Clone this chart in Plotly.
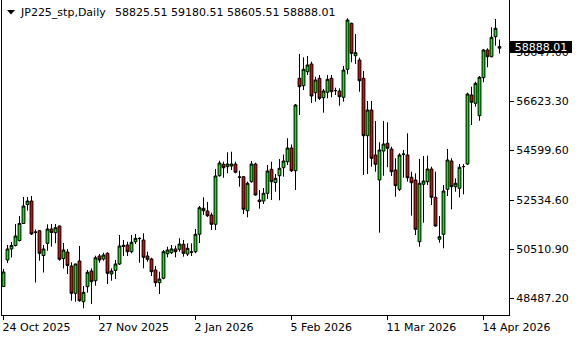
import plotly.graph_objects as go

# ---- data (JP225 daily OHLC) ----
opens = [48983, 50077, 50532, 50676, 50883, 51585, 52369, 52514, 51234, 51287,
         50263, 50767, 51358, 51205, 51481, 50139, 50408, 49829, 48702, 50036,
         48355, 48975, 49623, 49222, 50242, 50119, 50354, 49499, 49644, 49912,
         50635, 50697, 50420, 50833, 50973, 50903, 50242, 50119, 49664, 49140,
         49321, 50337, 50379, 50532, 50519, 50726, 50325, 50395, 50420, 51139,
         52212, 52101, 51936, 51552, 53559, 54030, 53931, 53959, 54042, 53493,
         53518, 52113, 53311, 54042, 52555, 52514, 52832, 53823, 53278, 53559,
         53889, 54137, 54703, 53765, 57581, 57276, 57854, 58172, 56987, 57581,
         56780, 57003, 57581, 57069, 57057, 56797, 57953, 59853, 58515, 58337,
         57581, 55211, 56272, 54414, 53381, 54579, 54897, 54662, 53794, 52997,
         54455, 54414, 53493, 53381, 50833, 53204, 53311, 53836, 52667, 50932,
         51139, 52997, 54166, 53105, 53038, 53931, 54042, 56892, 56549, 56037,
         57606, 58750, 58474, 59300, 58825.51]
highs = [49706, 50697, 50821, 51564, 51894, 52679, 52679, 52720, 51337, 51316,
         50697, 51552, 51564, 51564, 51495, 50779, 50532, 49982, 49925, 50655,
         49003, 49664, 49734, 50255, 50325, 50379, 50395, 49734, 50077, 51110,
         50903, 50833, 51110, 51151, 51015, 51180, 50420, 50172, 49829, 49594,
         50490, 50627, 50697, 50668, 50973, 50903, 50767, 50767, 51358, 52307,
         52667, 52473, 52031, 53836, 54178, 54137, 54525, 54550, 54137, 53765,
         53546, 53311, 54166, 54096, 52968, 53051, 54001, 54137, 53629, 54249,
         54434, 55103, 54847, 56520, 58585, 58449, 58502, 58267, 57648, 57718,
         57140, 57718, 57718, 57193, 57168, 58089, 60059, 59878, 59411, 58432,
         57883, 56644, 56644, 55818, 54938, 55818, 55764, 54757, 54277, 54484,
         54620, 55310, 53724, 53658, 54249, 54372, 54385, 53931, 53724, 51894,
         53175, 54662, 54277, 53451, 54042, 54042, 56987, 57235, 57441, 57676,
         58792, 58820, 59688, 60031, 59180.51]
lows = [48962, 49953, 50181, 50635, 50841, 51564, 52122, 51110, 49148, 50048,
        49561, 50461, 50627, 50767, 50048, 49726, 49499, 48396, 48355, 48355,
        48082, 48727, 48260, 49016, 49966, 50048, 49086, 49222, 49293, 49871,
        50242, 50242, 50354, 50738, 49966, 49734, 50007, 49416, 48975, 48673,
        49280, 50189, 50325, 50189, 50420, 50214, 50242, 50242, 50354, 50779,
        51936, 51853, 51316, 51316, 53518, 53476, 53658, 53794, 53658, 53105,
        51977, 51841, 53270, 52733, 52196, 52390, 52597, 52555, 52898, 52543,
        53518, 54001, 53712, 52968, 56066, 57098, 57718, 56561, 56615, 56685,
        56161, 56755, 56797, 56892, 56450, 56615, 57747, 58242, 58172, 57028,
        53588, 53629, 53931, 53724, 51205, 53559, 53906, 53546, 52692, 52927,
        53476, 53311, 51907, 51110, 50627, 51618, 53175, 52349, 51453, 50792,
        50560, 52720, 52171, 52898, 52667, 52791, 54001, 55653, 56409, 55830,
        57416, 58036, 58449, 58928, 58605.51]
closes = [49582, 50532, 50676, 51068, 51585, 52307, 52514, 51151, 51222, 50354,
          50532, 51358, 51213, 51411, 50106, 50490, 49850, 48702, 49912, 48396,
          48743, 49569, 49181, 50172, 50077, 50284, 49528, 49623, 49912, 50655,
          50684, 50420, 50808, 50973, 50961, 50189, 50106, 49594, 49140, 49293,
          50420, 50490, 50532, 50420, 50738, 50354, 50560, 50408, 51139, 52237,
          52113, 51907, 51552, 53546, 54083, 53889, 54042, 54042, 53699, 53505,
          52171, 53245, 54042, 52762, 52485, 52832, 53753, 53311, 53451, 53864,
          54166, 54703, 53761, 56479, 57235, 57953, 58131, 56850, 57511, 56755,
          57057, 57540, 57028, 57078, 56822, 57924, 59989, 58614, 58639, 57482,
          55211, 56272, 54277, 54030, 54620, 54868, 54690, 53724, 53146, 54414,
          54443, 53476, 53270, 51345, 53245, 53340, 53836, 52667, 51481, 51040,
          52927, 54207, 53105, 53245, 53906, 53939, 56933, 56590, 57375, 57623,
          58750, 58474, 59275, 59646, 58888.01]

bars = list(range(len(opens)))
tick_bars = [0, 24, 48, 72, 96, 120]
tick_labels = ["24 Oct 2025", "27 Nov 2025", "2 Jan 2026", "5 Feb 2026",
               "11 Mar 2026", "14 Apr 2026"]
price_ticks = [48487.20, 50510.90, 52534.60, 54599.60, 56623.30, 58647.00]
symbol = "JP225_stp,Daily"

# ---- styling / layout ----
W, H = 580, 340
ML, MR, MT, MB = 2, 71, 0, 25
PW, PH = W - ML - MR, H - MT - MB
FONT = "DejaVu Sans"
GREEN = "#00f000"
RED = "#ee0000"
y_range = [47805.75, 60815.25]
x_range = [-0.375, 126.375]


def px_x(px):
    return (px - ML) / PW


def px_y(py):
    return (H - MB - py) / PH


fig = go.Figure(go.Candlestick(
    x=bars, open=opens, high=highs, low=lows, close=closes,
    increasing=dict(line=dict(color="black", width=1), fillcolor=GREEN),
    decreasing=dict(line=dict(color="black", width=1), fillcolor=RED),
    whiskerwidth=0, hoverinfo="skip", showlegend=False,
))

fig.update_layout(
    width=W, height=H,
    margin=dict(l=ML, r=MR, t=MT, b=MB, pad=0),
    paper_bgcolor="white", plot_bgcolor="white",
    font=dict(family=FONT, size=11, color="black"),
    boxgap=0.0,
    showlegend=False,
    xaxis=dict(
        range=x_range, rangeslider=dict(visible=False),
        showgrid=False, zeroline=False,
        showline=True, linecolor="black", linewidth=1,
        ticks="outside", ticklen=4, tickwidth=1, tickcolor="black",
        tickmode="array", tickvals=tick_bars, ticktext=tick_labels,
        ticklabelposition="outside right",
        ticklabelshift=-2, ticklabelstandoff=2,
        tickfont=dict(family=FONT, size=11, color="black"),
        fixedrange=True,
    ),
    yaxis=dict(
        side="right", range=y_range,
        showgrid=False, zeroline=False,
        showline=True, mirror=True, linecolor="black", linewidth=1,
        ticks="outside", ticklen=4, tickwidth=1, tickcolor="black",
        tickmode="array", tickvals=price_ticks,
        ticktext=[f"{v:.2f}" for v in price_ticks],
        tickfont=dict(family=FONT, size=11, color="black"),
        fixedrange=True,
    ),
)

# header: symbol and last bar OHLC
fig.add_shape(type="path", xref="paper", yref="paper",
              path=f"M {px_x(7)} {px_y(10)} L {px_x(15)} {px_y(10)} L {px_x(11)} {px_y(14.5)} Z",
              fillcolor="black", line=dict(color="black", width=0))
fig.add_annotation(xref="paper", yref="paper", x=px_x(18), y=px_y(12.5),
                   xanchor="left", yanchor="middle", showarrow=False,
                   text=symbol, font=dict(family=FONT, size=11, color="black"))
ohlc_text = " ".join(f"{v:.2f}" for v in (opens[-1], highs[-1], lows[-1], closes[-1]))
fig.add_annotation(xref="paper", yref="paper", x=px_x(113), y=px_y(12.5),
                   xanchor="left", yanchor="middle", showarrow=False,
                   text=ohlc_text, font=dict(family=FONT, size=11, color="black"))

# current price box on the price scale
fig.add_annotation(xref="paper", yref="y", x=1, y=closes[-1], xshift=1,
                   xanchor="left", yanchor="middle", showarrow=False,
                   text=f"{closes[-1]:.2f}", bgcolor="black",
                   font=dict(family=FONT, size=11, color="white"),
                   width=62, height=12, borderpad=0, borderwidth=0, align="center")

fig.write_html("out.html", config={"displayModeBar": False, "staticPlot": True})
